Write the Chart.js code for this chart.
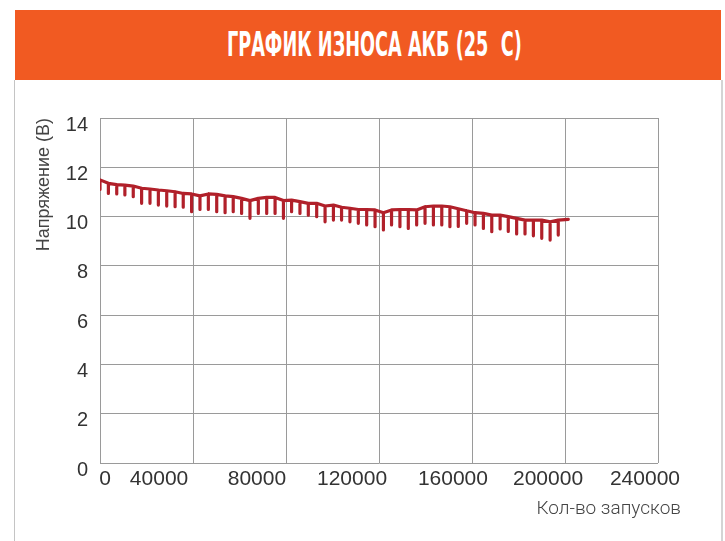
<!DOCTYPE html>
<html>
<head>
<meta charset="utf-8">
<script src="https://cdn.jsdelivr.net/npm/chart.js@4"></script>
<style>
  body { margin: 0; background: #fff; width: 725px; height: 541px; overflow: hidden; position: relative; }
  .header {
    position: absolute; left: 15px; top: 10px; width: 706px; height: 70px;
    background: #f15a22; display: flex; align-items: center; justify-content: center;
  }
  .header span {
    display: inline-block; color: #fff; white-space: nowrap;
    font-family: 'DejaVu Sans Condensed', 'DejaVu Sans', sans-serif; font-weight: bold; font-size: 33px;
    margin-left: 12px; margin-top: -2px;
  }
  .panel {
    position: absolute; left: 14px; top: 80px; width: 706px; height: 470px;
    border-left: 1px solid #c4c4c4; border-right: 2px solid #d4d4d4;
  }
  .wrap { position: absolute; left: 15px; top: 81px; width: 666px; height: 460px; }
</style>
</head>
<body>
<div class="panel"></div>
<div class="header"><span id="ttl">ГРАФИК ИЗНОСА АКБ (25&nbsp;&nbsp;С)</span></div>
<div class="wrap"><canvas id="chart"></canvas></div>
<script>
// cycles where each voltage dip happens
const spikeCycles = [0, 3600, 7200, 10700, 14300, 17900, 21500, 25100, 28700, 32300,
  35800, 39400, 43000, 46600, 50200, 53800, 57300, 60900, 64500, 68100,
  71700, 75300, 78900, 82400, 86000, 89600, 93200, 96800, 100400, 103900,
  107500, 111100, 114700, 118300, 121900, 125400, 129000, 132600, 136200, 139800,
  143400, 147000, 150500, 154100, 157700, 161300, 164900, 168500, 172100, 175600,
  179200, 182800, 186400, 190000, 193600, 197100];

// voltage on the upper line at each dip
const topVolts = [11.49, 11.35, 11.30, 11.28, 11.24, 11.15, 11.12, 11.08, 11.05, 11.01,
  10.94, 10.92, 10.84, 10.92, 10.90, 10.84, 10.81, 10.74, 10.65, 10.74,
  10.78, 10.78, 10.65, 10.67, 10.61, 10.54, 10.54, 10.43, 10.47, 10.38,
  10.34, 10.29, 10.29, 10.27, 10.16, 10.27, 10.29, 10.29, 10.27, 10.40,
  10.43, 10.43, 10.40, 10.32, 10.24, 10.16, 10.13, 10.06, 10.06, 10.00,
  9.93, 9.86, 9.86, 9.86, 9.79, 9.86];

// lowest voltage reached by each dip
const bottomVolts = [11.10, 10.94, 10.92, 10.88, 10.81, 10.54, 10.54, 10.47, 10.43, 10.40,
  10.38, 10.20, 10.29, 10.29, 10.20, 10.16, 10.20, 10.13, 9.93, 10.13,
  10.13, 10.13, 9.93, 10.20, 10.13, 10.06, 10.00, 9.79, 9.86, 9.86,
  9.79, 9.73, 9.66, 9.59, 9.46, 9.66, 9.59, 9.52, 9.66, 9.73,
  9.66, 9.66, 9.59, 9.60, 9.73, 9.66, 9.52, 9.39, 9.50, 9.40,
  9.30, 9.30, 9.22, 9.12, 9.05, 9.25];

const endCycle = 201400;
const endVolt = 9.89;

const xTickLabels = ['0', '40000', '80000', '120000', '160000', '200000', '240000'];
const yTicks = [0, 2, 4, 6, 8, 10, 12, 14];

// the labels in the picture don't sit right under the grid lines
const xLabelAt = [2150, 25400, 67500, 108400, 151800, 192700, 234400];

// squeeze the title to the width of the condensed font in the original
const ttl = document.getElementById('ttl');
ttl.style.transform = 'scaleX(' + (295 / ttl.offsetWidth).toFixed(3) + ')';

const points = [];
spikeCycles.forEach((c, i) => {
  points.push({ x: c, y: topVolts[i] });
  points.push({ x: c, y: bottomVolts[i] });
  points.push({ x: c, y: topVolts[i] });
});
points.push({ x: endCycle, y: endVolt });

const gridColor = '#9a9a9a';

new Chart(document.getElementById('chart'), {
  type: 'line',
  data: {
    datasets: [
      {
        data: points,
        borderColor: '#b1202a',
        borderWidth: 3.2,
        pointRadius: 0,
        tension: 0,
        borderJoinStyle: 'round',
        borderCapStyle: 'round',
        xAxisID: 'x',
        yAxisID: 'y',
      },
    ],
  },
  options: {
    responsive: true,
    maintainAspectRatio: false,
    animation: false,
    layout: { padding: { top: 37, left: 0, right: 0, bottom: 0 } },
    scales: {
      x: {
        type: 'linear',
        min: 0,
        max: 240000,
        weight: 0,
        ticks: { stepSize: 40000, display: false },
        grid: { color: gridColor, drawTicks: false },
        border: { display: false },
        afterFit: (s) => { s.height = 0; },
      },
      xLabels: {
        type: 'linear',
        position: 'bottom',
        min: 0,
        max: 240000,
        weight: 1,
        grid: { display: false, drawTicks: false },
        border: { display: false },
        ticks: {
          autoSkip: false,
          maxRotation: 0,
          padding: 3,
          color: '#333',
          font: { family: 'Liberation Sans', size: 21 },
          callback: (v, i) => xTickLabels[i],
        },
        afterBuildTicks: (s) => { s.ticks = xLabelAt.map((v) => ({ value: v })); },
        afterFit: (s) => { s.height = 35; s.paddingLeft = 0; s.paddingRight = 0; },
      },
      y: {
        min: 0,
        max: 14,
        ticks: {
          stepSize: 2,
          padding: 12,
          labelOffset: 7,
          color: '#333',
          font: { family: 'Liberation Sans', size: 20 },
        },
        afterBuildTicks: (s) => { s.ticks = yTicks.map((v) => ({ value: v })); },
        grid: { color: gridColor, drawTicks: false },
        border: { color: gridColor },
        title: {
          display: true,
          text: 'Напряжение (В)',
          align: 'end',
          color: '#444',
          padding: { top: 18, bottom: 0 },
          font: { family: 'Liberation Sans', size: 18 },
        },
        afterFit: (s) => { s.width = 85; },
      },
      yPad: {
        type: 'linear',
        position: 'right',
        grid: { display: false },
        border: { display: false },
        ticks: { display: false },
        afterFit: (s) => { s.width = 23; },
      },
    },
    plugins: {
      legend: { display: false },
      tooltip: { enabled: false },
      title: {
        display: true,
        text: 'Кол-во запусков',
        position: 'bottom',
        align: 'end',
        color: '#444',
        font: { family: 'Roboto', size: 19, weight: '300' },
        padding: { top: 0, bottom: 20 },
      },
    },
  },
});
</script>
</body>
</html>
